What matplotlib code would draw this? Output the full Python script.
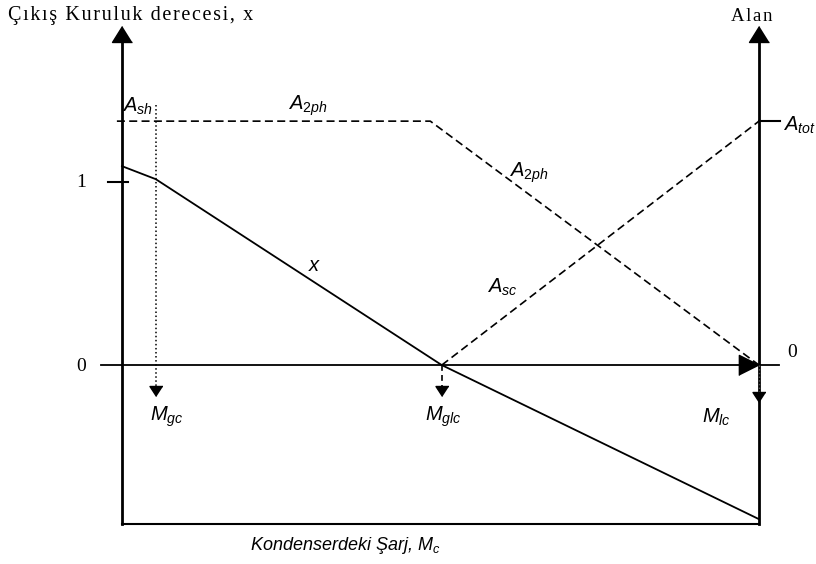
import matplotlib
matplotlib.use("Agg")
import matplotlib.pyplot as plt

plt.rcParams["mathtext.fontset"] = "custom"
plt.rcParams["mathtext.it"] = "Liberation Sans:italic"
plt.rcParams["mathtext.rm"] = "Liberation Sans"

# --- schematic data (horizontal: charge M_c, 0 = left axis, 1 = right axis) ---
mc_x = [0.0, 0.053, 0.502, 1.0]          # quality curve breakpoints
x_quality = [1.087, 1.016, 0.0, -0.842]
mc_a2ph = [-0.008, 0.484, 1.0]            # two-phase area
a_2ph = [1.333, 1.333, 0.0]
mc_asc = [0.502, 1.0]                     # subcooled area
a_sc = [0.0, 1.333]
a_tot = 1.333
m_gc, m_glc, m_lc = 0.053, 0.502, 1.0
y_bottom = -0.869
y_top = 1.853

SERIF = ["Liberation Serif", "DejaVu Serif"]
SANS = ["Liberation Sans", "DejaVu Sans"]


def spaced(s, sep="\u200a"):
    return sep.join(s)


fig = plt.figure(figsize=(8.16, 5.64), dpi=100)
ax = fig.add_axes([0, 0, 1, 1])
ax.set_xlim(-0.1915, 1.0895)
ax.set_ylim(-1.087, 1.995)
ax.axis("off")

# arrow-head markers with the tip at the origin
up_head = [(0, 0), (-10, -16), (10, -16)]
right_head = [(0, 0), (-20, 10), (-20, -10)]
down_head = [(0, 0), (-6.5, 10), (6.5, 10)]

# axes and frame
ax.plot([0, 0], [y_bottom, y_top - 0.09], color="black", lw=2)
ax.plot([1, 1], [y_bottom, y_top - 0.09], color="black", lw=2)
ax.plot([0, 1], [y_bottom, y_bottom], color="black", lw=1.5)
ax.plot([0, 1], [y_top, y_top], ls="none", marker=up_head, ms=23, color="black")
ax.plot([-0.033, 1.031], [0, 0], color="black", lw=1.3)
ax.plot([1.0], [0], ls="none", marker=right_head, ms=29, color="black")

# ticks
ax.plot([-0.022, 0.009], [1, 1], color="black", lw=1.5)
ax.plot([1.0, 1.033], [a_tot, a_tot], color="black", lw=1.5)

# curves
ax.plot(mc_x, x_quality, color="black", lw=1.3)
ax.plot(mc_a2ph, a_2ph, color="black", lw=1.2, dashes=(4.8, 2.6))
ax.plot(mc_asc, a_sc, color="black", lw=1.2, dashes=(4.8, 2.6))

# drop lines to the charge axis
ax.plot([m_gc, m_gc], [1.421, -0.12], color="black", lw=1.1, ls=":")
ax.plot([m_glc, m_glc], [0, -0.12], color="black", lw=1.2, dashes=(3.5, 2.5))
ax.plot([m_lc, m_lc], [0, -0.15], color="#555555", lw=1.0, ls=":")
ax.plot([m_gc, m_glc], [-0.169, -0.169], ls="none", marker=down_head, ms=14.4, color="black")
ax.plot([m_lc], [-0.202], ls="none", marker=down_head, ms=14.4, color="black")

# text
ax.text(-0.179, 1.913, spaced("Çıkış Kuruluk derecesi, x"), family=SERIF, fontsize=14.5,
        ha="left", va="center")
ax.text(0.989, 1.907, spaced("Alan"), family=SERIF, fontsize=13.5, ha="center", va="center")
ax.text(-0.064, 1.0, "1", family=SERIF, fontsize=14, ha="center", va="center")
ax.text(-0.064, -0.01, "0", family=SERIF, fontsize=14, ha="center", va="center")
ax.text(1.052, 0.071, "0", family=SERIF, fontsize=14, ha="center", va="center")

lab = dict(fontsize=14.5, ha="left", va="center")
ax.text(0.0, 1.415, r"$A_{sh}$", **lab)
ax.text(0.261, 1.415, r"$A_{\mathit{2ph}}$", **lab)
ax.text(0.608, 1.049, r"$A_{\mathit{2ph}}$", **lab)
ax.text(0.292, 0.546, r"$x$", **lab)
ax.text(0.573, 0.426, r"$A_{sc}$", **lab)
ax.text(1.038, 1.311, r"$A_{tot}$", **lab)
ax.text(0.044, -0.284, r"$M_{gc}$", **lab)
ax.text(0.476, -0.284, r"$M_{glc}$", **lab)
ax.text(0.911, -0.284, r"$M_{lc}$", **lab)
ax.text(0.35, -0.984, r"Kondenserdeki Şarj, $M_c$", family=SANS, style="italic",
        fontsize=13, ha="center", va="center")

fig.savefig("out.png", dpi=100)
